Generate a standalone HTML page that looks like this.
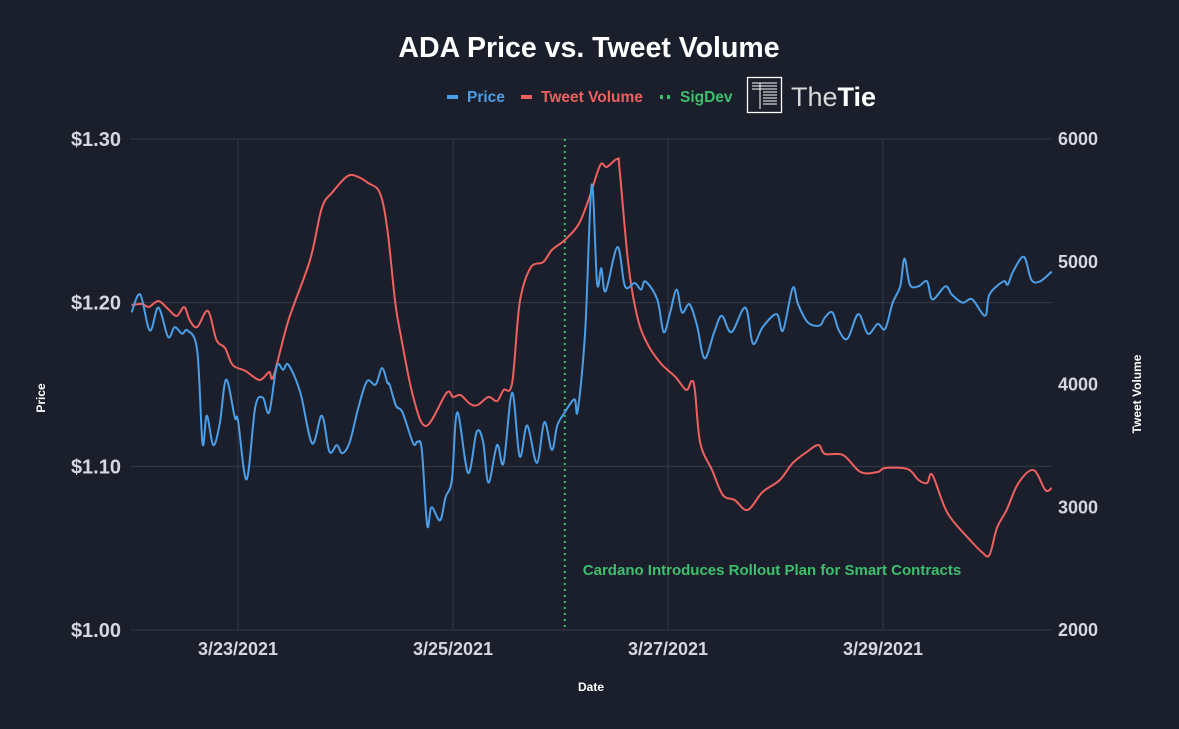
<!DOCTYPE html>
<html><head><meta charset="utf-8"><style>
html,body{margin:0;padding:0;background:#1b1f2b;}
svg{display:block;font-family:"Liberation Sans",sans-serif;}
</style></head><body>
<svg id="chart" width="1179" height="729" viewBox="0 0 1179 729">
<rect width="1179" height="729" fill="#1b1f2b"/>
<text x="589" y="57" text-anchor="middle" fill="#ffffff" font-size="28.5" font-weight="bold">ADA Price vs. Tweet Volume</text>
<g>
<g><rect x="447" y="95" width="11" height="4" fill="#4a9ee8"/><text x="467" y="102" fill="#4a9ee8" font-size="15.5" font-weight="bold">Price</text></g>
<g><rect x="521" y="95" width="11" height="4" fill="#f0605f"/><text x="541" y="102" fill="#f0605f" font-size="15.5" font-weight="bold">Tweet Volume</text></g>
<g><rect x="660" y="95" width="3" height="4" fill="#3dbf6e"/><rect x="667" y="95" width="3" height="4" fill="#3dbf6e"/><text x="680" y="102" fill="#3dbf6e" font-size="15.5" font-weight="bold">SigDev</text></g>
</g>
<g>
<rect x="747.5" y="77.5" width="34" height="35" fill="none" stroke="#fff" stroke-width="1.3"/>
<g stroke="#fff" stroke-width="1"><line x1="752" y1="83" x2="777" y2="83"/><line x1="752" y1="86" x2="777" y2="86"/><line x1="752" y1="89" x2="777" y2="89"/><line x1="763" y1="92" x2="777" y2="92"/><line x1="763" y1="95" x2="777" y2="95"/><line x1="763" y1="98" x2="777" y2="98"/><line x1="763" y1="101" x2="777" y2="101"/><line x1="763" y1="104" x2="777" y2="104"/><line x1="760" y1="83" x2="760" y2="109"/></g>
<text x="791" y="106" font-size="27" fill="#d8d8d8">The<tspan font-weight="bold" fill="#fff">Tie</tspan></text>
</g>
<g id="grid"></g>
<g id="axes"></g>
<g id="series"></g>
<text transform="translate(45,398) rotate(-90)" text-anchor="middle" fill="#fff" font-size="12" font-weight="bold">Price</text>
<text transform="translate(1141,394) rotate(-90)" text-anchor="middle" fill="#fff" font-size="12" font-weight="bold">Tweet Volume</text>
<text x="591" y="691" text-anchor="middle" fill="#fff" font-size="12" font-weight="bold">Date</text>
</svg>
<script>
const priceTimes=[0.01,0.09,0.18,0.26,0.35,0.41,0.48,0.53,0.62,0.67,0.71,0.77,0.83,0.89,0.97,1.00,1.08,1.16,1.23,1.29,1.36,1.42,1.47,1.58,1.69,1.78,1.85,1.92,1.97,2.04,2.12,2.20,2.28,2.34,2.39,2.41,2.47,2.53,2.63,2.67,2.71,2.76,2.80,2.88,2.93,2.99,3.04,3.14,3.22,3.28,3.33,3.41,3.47,3.55,3.62,3.69,3.78,3.85,3.92,3.97,4.04,4.13,4.16,4.23,4.29,4.34,4.38,4.42,4.53,4.60,4.69,4.75,4.79,4.90,4.96,5.02,5.08,5.13,5.20,5.27,5.34,5.43,5.50,5.59,5.72,5.79,5.88,6.01,6.07,6.16,6.21,6.30,6.41,6.46,6.53,6.59,6.67,6.77,6.86,6.95,7.02,7.09,7.16,7.20,7.25,7.33,7.41,7.46,7.58,7.64,7.74,7.83,7.95,7.99,8.12,8.16,8.21,8.31,8.38,8.46,8.57];
const priceValues=[1.194,1.205,1.183,1.197,1.179,1.185,1.181,1.183,1.171,1.114,1.131,1.113,1.126,1.153,1.130,1.128,1.092,1.136,1.142,1.133,1.161,1.159,1.162,1.145,1.114,1.131,1.109,1.113,1.108,1.115,1.136,1.152,1.150,1.160,1.151,1.150,1.137,1.133,1.114,1.115,1.110,1.064,1.075,1.067,1.081,1.092,1.133,1.096,1.121,1.115,1.090,1.113,1.102,1.145,1.106,1.125,1.102,1.127,1.110,1.125,1.133,1.141,1.134,1.183,1.272,1.212,1.221,1.207,1.234,1.210,1.212,1.208,1.213,1.202,1.182,1.194,1.208,1.194,1.199,1.186,1.166,1.182,1.192,1.182,1.197,1.175,1.185,1.193,1.183,1.209,1.199,1.188,1.186,1.191,1.194,1.183,1.178,1.193,1.181,1.187,1.184,1.200,1.210,1.227,1.211,1.210,1.213,1.202,1.210,1.205,1.200,1.202,1.192,1.205,1.213,1.211,1.219,1.228,1.214,1.213,1.219];
const tweetTimes=[0.01,0.11,0.17,0.26,0.35,0.43,0.50,0.55,0.62,0.72,0.80,0.88,0.95,1.07,1.20,1.29,1.33,1.47,1.67,1.78,1.88,2.02,2.12,2.21,2.32,2.39,2.46,2.51,2.63,2.75,2.94,3.00,3.07,3.16,3.23,3.33,3.41,3.47,3.55,3.62,3.72,3.84,3.92,4.04,4.17,4.27,4.37,4.43,4.53,4.55,4.63,4.71,4.80,4.93,5.07,5.17,5.22,5.25,5.30,5.41,5.51,5.62,5.74,5.88,6.04,6.16,6.29,6.40,6.46,6.63,6.79,6.95,7.02,7.23,7.33,7.41,7.46,7.60,7.81,7.92,7.99,8.06,8.15,8.26,8.40,8.51,8.57];
const tweetValues=[4647,4656,4631,4680,4615,4558,4631,4525,4468,4599,4362,4297,4159,4110,4037,4102,4069,4525,5014,5438,5568,5699,5690,5642,5560,5259,4688,4419,3898,3662,3931,3898,3914,3841,3833,3898,3865,3955,4012,4664,4949,4998,5096,5177,5308,5527,5788,5772,5837,5747,4990,4566,4346,4175,4061,3955,4029,3955,3523,3303,3100,3059,2978,3124,3222,3360,3450,3507,3434,3425,3287,3287,3320,3311,3222,3197,3262,2953,2733,2635,2611,2831,2978,3197,3303,3140,3157];
const priceTicks=[1.00,1.10,1.20,1.30];
const priceTickLabels=["$1.00","$1.10","$1.20","$1.30"];
const tweetTicks=[2000,3000,4000,5000,6000];
const dateTicks=[1,3,5,7];
const dateTickLabels=["3/23/2021","3/25/2021","3/27/2021","3/29/2021"];
const sigDevTimes=[4.04];
const sigDevLabels=["Cardano Introduces Rollout Plan for Smart Contracts"];

const X0=130.5,X1=1052,T0=0,T1=(1052-130.5)/107.5;
const Y0=630,Y1=139;
const xs=t=>X0+(t-T0)/(T1-T0)*(X1-X0);
const yP=v=>Y0-(v-1.0)/(0.3)*(Y0-Y1);
const yT=v=>Y0-(v-2000)/4000*(Y0-Y1);
const NS="http://www.w3.org/2000/svg";
function mk(tag,attrs,parent){const e=document.createElementNS(NS,tag);for(const k in attrs)e.setAttribute(k,attrs[k]);parent.appendChild(e);return e;}
const grid=document.getElementById('grid'),axes=document.getElementById('axes'),series=document.getElementById('series');
priceTicks.forEach((v,i)=>{
  const l=mk('line',{x1:X0,x2:X1,y1:yP(v),y2:yP(v),stroke:'#353a48','stroke-width':1},grid);
  
  
  const t=mk('text',{x:121,y:yP(v)+7,'text-anchor':'end',fill:'#d4d7de','font-size':20,'font-weight':'bold'},axes);
  t.textContent=priceTickLabels[i];
  
  
});
tweetTicks.forEach(v=>{
  const t=mk('text',{x:1058,y:yT(v)+6,fill:'#d4d7de','font-size':18,'font-weight':'bold'},axes);
  t.textContent=String(v);
  
  
});
dateTicks.forEach((d,i)=>{
  const l=mk('line',{x1:xs(d),x2:xs(d),y1:Y1,y2:Y0,stroke:'#353a48','stroke-width':1},grid);
  
  
  const t=mk('text',{x:xs(d),y:655,'text-anchor':'middle',fill:'#d4d7de','font-size':18,'font-weight':'bold'},axes);
  t.textContent=dateTickLabels[i];
  
  
});
sigDevTimes.forEach((d,i)=>{
  const l=mk('line',{x1:xs(d),x2:xs(d),y1:Y1,y2:Y0,stroke:'#3dbf6e','stroke-width':2,'stroke-dasharray':'2 4'},series);
  
  
  const t=mk('text',{x:xs(d)+18,y:575,fill:'#3dbf6e','font-size':15,'font-weight':'bold'},series);
  t.textContent=sigDevLabels[i];
  
  
});
function smooth(pts){let d='M'+pts[0][0]+','+pts[0][1];for(let i=0;i<pts.length-1;i++){const p0=pts[Math.max(0,i-1)],p1=pts[i],p2=pts[i+1],p3=pts[Math.min(pts.length-1,i+2)];const c1x=p1[0]+(p2[0]-p0[0])/6,c1y=p1[1]+(p2[1]-p0[1])/6,c2x=p2[0]-(p3[0]-p1[0])/6,c2y=p2[1]-(p3[1]-p1[1])/6;d+=` C${c1x},${c1y} ${c2x},${c2y} ${p2[0]},${p2[1]}`;}return d;}
const tp=mk('path',{d:smooth(tweetTimes.map((t,i)=>[xs(t),yT(tweetValues[i])])),fill:'none',stroke:'#f0605f','stroke-width':2,'stroke-linejoin':'round'},series);


const pp=mk('path',{d:smooth(priceTimes.map((t,i)=>[xs(t),yP(priceValues[i])])),fill:'none',stroke:'#4a9ee8','stroke-width':2,'stroke-linejoin':'round'},series);


</script>
</body></html>
